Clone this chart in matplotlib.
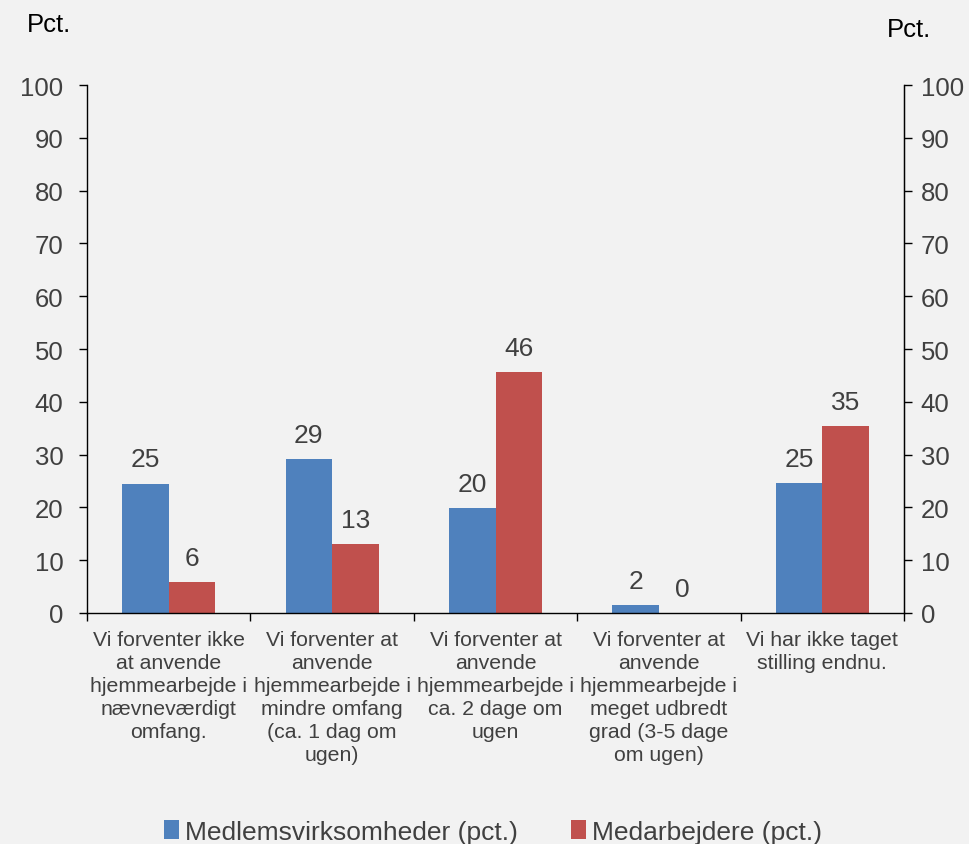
import numpy as np
import matplotlib.pyplot as plt

plt.rcParams['font.family'] = ['Liberation Sans', 'DejaVu Sans']

categories = [
    "Vi forventer ikke\nat anvende\nhjemmearbejde i\nnævneværdigt\nomfang.",
    "Vi forventer at\nanvende\nhjemmearbejde i\nmindre omfang\n(ca. 1 dag om\nugen)",
    "Vi forventer at\nanvende\nhjemmearbejde i\nca. 2 dage om\nugen",
    "Vi forventer at\nanvende\nhjemmearbejde i\nmeget udbredt\ngrad (3-5 dage\nom ugen)",
    "Vi har ikke taget\nstilling endnu.",
]
medlem = [24.5, 29.2, 19.9, 1.5, 24.6]
medarb = [5.9, 13.1, 45.6, 0.0, 35.4]
medlem_labels = ["25", "29", "20", "2", "25"]
medarb_labels = ["6", "13", "46", "0", "35"]
yticks = [0, 10, 20, 30, 40, 50, 60, 70, 80, 90, 100]

bg = '#f2f2f2'
blue = '#4f81bd'
red = '#c0504d'
txt = '#404040'

fig = plt.figure(figsize=(9.69, 8.45), dpi=100, facecolor=bg)
ax = fig.add_axes([87/969, 1 - 614/845, (904-87)/969, (614-86)/845])
ax.set_facecolor(bg)

x = np.arange(len(categories))
w = 0.285
b1 = ax.bar(x - w/2, medlem, w, color=blue, label="Medlemsvirksomheder (pct.)")
b2 = ax.bar(x + w/2, medarb, w, color=red, label="Medarbejdere (pct.)")

for xi, v, lab in zip(x - w/2, medlem, medlem_labels):
    ax.text(xi, v + 2.3, lab, ha='center', va='bottom', fontsize=19, color=txt)
for xi, v, lab in zip(x + w/2, medarb, medarb_labels):
    ax.text(xi, v + 2.3, lab, ha='center', va='bottom', fontsize=19, color=txt)

ax.set_xlim(-0.5, len(categories) - 0.5)
ax.set_ylim(0, 100)
ax.set_yticks(yticks)
ax.tick_params(axis='y', labelsize=18.5, labelcolor=txt, direction='out', length=6, width=1, pad=11)
ax.set_xticks(x)
ax.set_xticklabels(categories, fontsize=15.3, color=txt, linespacing=1.27)
ax.tick_params(axis='x', length=0, pad=12)
ax.set_xticks(np.arange(len(categories) + 1) - 0.5, minor=True)
ax.tick_params(axis='x', which='minor', direction='out', length=6, width=1)

ax.spines['top'].set_visible(False)
for s in ['left', 'right', 'bottom']:
    ax.spines[s].set_color('black')
    ax.spines[s].set_linewidth(1)

ax2 = ax.twinx()
ax2.set_ylim(0, 100)
ax2.set_yticks(yticks)
ax2.tick_params(axis='y', labelsize=18.5, labelcolor=txt, direction='out', length=6, width=1, pad=6)
ax2.spines['top'].set_visible(False)
ax2.spines['left'].set_visible(False)
ax2.spines['bottom'].set_visible(False)

fig.text(27/969, 1 - 25/845, "Pct.", fontsize=18.5, color='black', va='center', ha='left')
fig.text(887/969, 1 - 30/845, "Pct.", fontsize=18.5, color='black', va='center', ha='left')

fig.legend(handles=[b1, b2], loc='center', bbox_to_anchor=(0.509, 1 - 833/845), ncol=2,
           frameon=False, fontsize=19,
           handlelength=0.55, handleheight=0.75,
           handletextpad=0.25, columnspacing=2.0, labelcolor=txt)

fig.savefig('out.png', dpi=100, facecolor=bg)
